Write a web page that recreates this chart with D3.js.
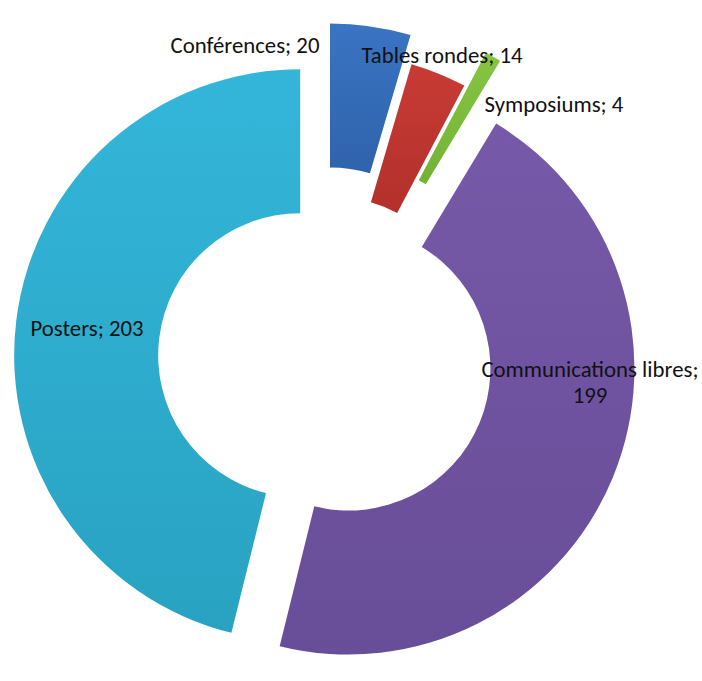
<!DOCTYPE html>
<html>
<head>
<meta charset="utf-8">
<script src="https://cdn.jsdelivr.net/npm/d3@7"></script>
<style>
  html, body { margin: 0; padding: 0; background: #ffffff; }
  svg { display: block; }
  .lbl { font-family: Carlito, Calibri, Lato, "Open Sans", sans-serif; fill: #111111; }
</style>
</head>
<body>
<svg id="chart" width="702" height="681"></svg>
<script>
// Répartition des communications par type
const categories = ["Conférences", "Tables rondes", "Symposiums", "Communications libres", "Posters"];
const values = [20, 14, 4, 199, 203];
const colors = ["#3a74c3", "#c93b35", "#86c442", "#7659a8", "#33b6da"];
const colorsDark = ["#2f63ab", "#b2302b", "#74b236", "#684d98", "#29a2c1"];
// how far each slice is pulled out from the centre (px)
const explode = [49, 21, 60, 27.5, 23];
// label text lines and anchor points (centre x, first baseline y)
const labelLines = [["Conférences; 20"], ["Tables rondes; 14"], ["Symposiums; 4"], ["Communications libres;", "199"], ["Posters; 203"]];
const labelPos = [[245, 53], [442, 63], [554, 112], [590, 377], [87, 336]];

const W = 702, H = 681;
const cx = 323, cy = 358;
const outerR = 286, innerR = 142;

const svg = d3.select("#chart");
const defs = svg.append("defs");

const data = categories.map((c, i) => ({ name: c, value: values[i], i }));

const pie = d3.pie().sort(null).value(d => d.value).startAngle(0).endAngle(2 * Math.PI);
const arcs = pie(data);
const arc = d3.arc().innerRadius(innerR).outerRadius(outerR);

// soft vertical shading on each slice
arcs.forEach(a => {
  const g = defs.append("linearGradient")
    .attr("id", "grad" + a.index)
    .attr("x1", 0).attr("y1", 0).attr("x2", 0).attr("y2", 1);
  g.append("stop").attr("offset", "0%").attr("stop-color", colors[a.index]);
  g.append("stop").attr("offset", "100%").attr("stop-color", colorsDark[a.index]);
});

const root = svg.append("g").attr("transform", `translate(${cx},${cy})`);

root.selectAll("path.slice")
  .data(arcs)
  .join("path")
  .attr("class", "slice")
  .attr("transform", d => {
    const mid = (d.startAngle + d.endAngle) / 2;
    const e = explode[d.index];
    return `translate(${e * Math.sin(mid)},${-e * Math.cos(mid)})`;
  })
  .attr("d", arc)
  .attr("fill", d => `url(#grad${d.index})`);

// data labels
const labels = svg.append("g");
arcs.forEach(a => {
  const [lx, ly] = labelPos[a.index];
  const t = labels.append("text")
    .attr("class", "lbl")
    .attr("text-anchor", "middle")
    .attr("x", lx).attr("y", ly)
    .style("font-size", "22.8px");
  labelLines[a.index].forEach((line, k) => {
    t.append("tspan").attr("x", lx).attr("dy", k === 0 ? 0 : 26).text(line);
  });
});
</script>
</body>
</html>
